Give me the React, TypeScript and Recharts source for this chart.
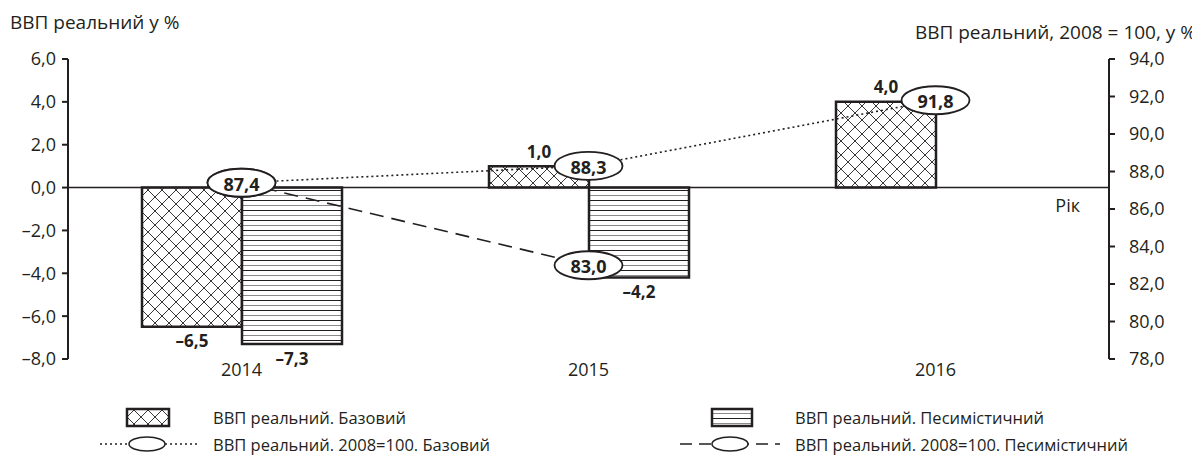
import React from 'react'
import { ComposedChart, Bar, Line, XAxis, YAxis, ReferenceLine, LabelList } from 'recharts'

// values
const years = ['2014', '2015', '2016']
const gdpBase = [-6.5, 1.0, 4.0]
const gdpPessimistic = [-7.3, -4.2, null]
const indexBase = [87.4, 88.3, 91.8]
const indexPessimistic = [87.4, 83.0, null]
const leftTicks = [-8, -6, -4, -2, 0, 2, 4, 6]
const rightTicks = [78, 80, 82, 84, 86, 88, 90, 92, 94]

const legendNames = {
  gdpBase: 'ВВП реальний. Базовий',
  gdpPessimistic: 'ВВП реальний. Песимістичний',
  indexBase: 'ВВП реальний. 2008=100. Базовий',
  indexPessimistic: 'ВВП реальний. 2008=100. Песимістичний',
}

const data = years.map((year, i) => ({
  year,
  gdpBase: gdpBase[i],
  gdpPessimistic: gdpPessimistic[i],
  indexBase: indexBase[i],
  indexPessimistic: indexPessimistic[i],
}))

const INK = '#231f20'
const FONT = '"Open Sans", sans-serif'

const fmt = (v: number) => (v < 0 ? '\u2013' : '') + Math.abs(v).toFixed(1).replace('.', ',')

function Patterns({ prefix }: { prefix: string }) {
  return (
    <defs>
      <pattern id={`${prefix}-xhatch`} width={14} height={14} patternUnits="userSpaceOnUse">
        <rect width={14} height={14} fill="#fff" />
        <path d="M0,0 L14,14 M14,0 L0,14" stroke={INK} strokeWidth={0.9} />
      </pattern>
      <pattern id={`${prefix}-hlines`} width={10} height={10} patternUnits="userSpaceOnUse">
        <rect width={10} height={10} fill="#fff" />
        <line x1={0} y1={2.5} x2={10} y2={2.5} stroke={INK} strokeWidth={1} />
        <line x1={0} y1={7.5} x2={10} y2={7.5} stroke="#8a8a8a" strokeWidth={1} />
      </pattern>
    </defs>
  )
}

const BarValueLabel = (props: any) => {
  const vb = props.viewBox || props
  const { x, y, width, height } = vb
  const value = props.value
  if (value == null || x == null) return null
  const top = Math.min(y, y + height)
  const bottom = Math.max(y, y + height)
  const ty = value < 0 ? bottom + 14 : top - 15
  return (
    <text
      x={x + width / 2}
      y={ty}
      textAnchor="middle"
      dominantBaseline="central"
      fontFamily={FONT}
      fontWeight={700}
      fontSize={17}
      fill={INK}
    >
      {fmt(value)}
    </text>
  )
}

const OvalDot = (props: any) => {
  const { cx, cy, value, index } = props
  if (value == null || cx == null || cy == null) return <g key={`e-${index}`} />
  return (
    <g key={`d-${index}`}>
      <ellipse cx={cx} cy={cy} rx={34} ry={14} fill="#fff" stroke={INK} strokeWidth={1.8} />
      <text
        x={cx}
        y={cy + 1}
        textAnchor="middle"
        dominantBaseline="central"
        fontFamily={FONT}
        fontWeight={700}
        fontSize={18}
        fill={INK}
      >
        {fmt(value)}
      </text>
    </g>
  )
}

function ChartLegend() {
  const text = { fontFamily: FONT, fontSize: 16.5, fill: INK, dominantBaseline: 'central' as const }
  return (
    <svg width={1184} height={64} style={{ position: 'absolute', left: 0, top: 388 }}>
      <Patterns prefix="lg" />
      <rect x={119} y={13} width={42} height={17} fill="url(#lg-xhatch)" stroke={INK} strokeWidth={2.5} />
      <text x={205} y={21} {...text}>{legendNames.gdpBase}</text>
      <rect x={704} y={13} width={40} height={17} fill="url(#lg-hlines)" stroke={INK} strokeWidth={2.5} />
      <text x={787} y={21} {...text}>{legendNames.gdpPessimistic}</text>

      <line x1={92} y1={48} x2={190} y2={48} stroke={INK} strokeWidth={1.3} strokeDasharray="2 3" />
      <ellipse cx={139} cy={48} rx={18} ry={7} fill="#fff" stroke={INK} strokeWidth={1.5} />
      <text x={205} y={48} {...text}>{legendNames.indexBase}</text>
      <line x1={672} y1={48} x2={772} y2={48} stroke={INK} strokeWidth={1.3} strokeDasharray="12 7" />
      <ellipse cx={722} cy={48} rx={18} ry={7} fill="#fff" stroke={INK} strokeWidth={1.5} />
      <text x={787} y={48} {...text}>{legendNames.indexPessimistic}</text>
    </svg>
  )
}

export default function App() {
  const tickStyle = { fontSize: 18, fill: INK, fontFamily: FONT }
  return (
    <div style={{ position: 'relative', width: 1184, height: 454, fontFamily: FONT, color: INK }}>
      <div style={{ position: 'absolute', left: 2, top: 1, fontSize: 19, whiteSpace: 'nowrap' }}>
        ВВП реальний у %
      </div>
      <div style={{ position: 'absolute', right: -4, top: 11, fontSize: 19, whiteSpace: 'nowrap' }}>
        ВВП реальний, 2008 = 100, у %
      </div>
      <ComposedChart
        width={1184}
        height={454}
        data={data}
        margin={{ top: 51, right: 0, bottom: 73, left: 0 }}
        barGap={0}
        barSize={100}
      >
        <Patterns prefix="ch" />
        <XAxis
          dataKey="year"
          axisLine={false}
          tickLine={false}
          tickSize={0}
          tickMargin={4}
          height={30}
          tick={tickStyle}
        />
        <YAxis
          yAxisId="left"
          orientation="left"
          width={60}
          domain={[-8, 6]}
          ticks={leftTicks}
          tickFormatter={fmt}
          tick={tickStyle}
          tickMargin={6}
          axisLine={{ stroke: INK, strokeWidth: 2 }}
          tickLine={{ stroke: INK, strokeWidth: 2 }}
          allowDataOverflow
        />
        <YAxis
          yAxisId="right"
          orientation="right"
          width={83}
          domain={[78, 94]}
          ticks={rightTicks}
          tickFormatter={fmt}
          tick={tickStyle}
          tickMargin={14}
          axisLine={{ stroke: INK, strokeWidth: 2 }}
          tickLine={{ stroke: INK, strokeWidth: 2 }}
          allowDataOverflow
        />
        <Bar
          yAxisId="left"
          dataKey="gdpBase"
          name={legendNames.gdpBase}
          fill="url(#ch-xhatch)"
          stroke={INK}
          strokeWidth={2.5}
          isAnimationActive={false}
        >
          <LabelList dataKey="gdpBase" content={BarValueLabel} />
        </Bar>
        <Bar
          yAxisId="left"
          dataKey="gdpPessimistic"
          name={legendNames.gdpPessimistic}
          fill="url(#ch-hlines)"
          stroke={INK}
          strokeWidth={2.5}
          isAnimationActive={false}
        >
          <LabelList dataKey="gdpPessimistic" content={BarValueLabel} />
        </Bar>
        <ReferenceLine
          yAxisId="left"
          y={0}
          stroke={INK}
          strokeWidth={1.5}
          label={(p: any) => (
            <text
              x={p.viewBox.x + p.viewBox.width - 29}
              y={p.viewBox.y + 24}
              textAnchor="end"
              fontFamily={FONT}
              fontSize={18}
              fill={INK}
            >
              Рік
            </text>
          )}
        />
        <Line
          yAxisId="right"
          dataKey="indexBase"
          name={legendNames.indexBase}
          type="linear"
          stroke={INK}
          strokeWidth={1.6}
          strokeDasharray="2 3"
          dot={OvalDot}
          activeDot={false}
          isAnimationActive={false}
        />
        <Line
          yAxisId="right"
          dataKey="indexPessimistic"
          name={legendNames.indexPessimistic}
          type="linear"
          stroke={INK}
          strokeWidth={1.6}
          strokeDasharray="14 8"
          dot={OvalDot}
          activeDot={false}
          isAnimationActive={false}
        />
      </ComposedChart>
      <ChartLegend />
    </div>
  )
}
